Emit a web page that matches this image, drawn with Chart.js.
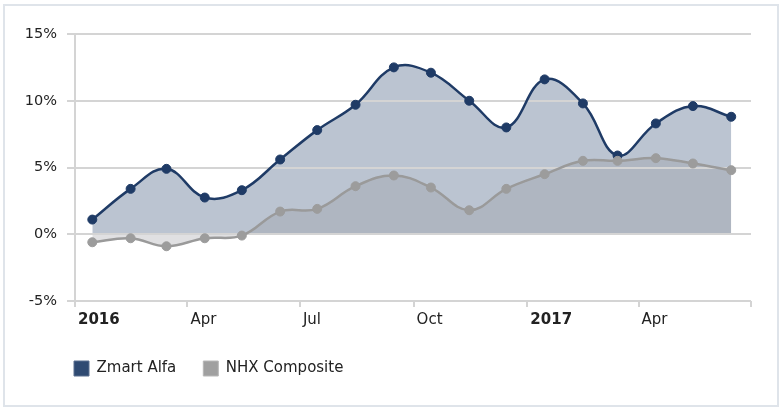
<!DOCTYPE html>
<html>
<head>
<meta charset="utf-8">
<script src="https://cdn.jsdelivr.net/npm/chart.js@4/dist/chart.umd.min.js"></script>
<style>
  html, body { margin: 0; padding: 0; background: #fff; }
  #wrap { position: relative; width: 780px; height: 416px; }
  #frame { position: absolute; left: 3px; top: 4px; width: 772px; height: 399px; border: 2px solid #dfe4ea; }
  #chart { position: absolute; left: 0; top: 0; }
</style>
</head>
<body>
<div id="wrap">
  <div id="frame"></div>
  <canvas id="chart" width="780" height="416"></canvas>
</div>
<script>
// monthly points (mid month)
var point_dates = ["2016-01-15", "2016-02-15", "2016-03-15", "2016-04-15", "2016-05-15", "2016-06-15",
                   "2016-07-15", "2016-08-15", "2016-09-15", "2016-10-15", "2016-11-15", "2016-12-15",
                   "2017-01-15", "2017-02-15", "2017-03-15", "2017-04-15", "2017-05-15", "2017-06-15"];
var zmart_alfa = [1.1, 3.4, 4.9, 2.75, 3.3, 5.6, 7.8, 9.7, 12.5, 12.1, 10.0, 8.0, 11.6, 9.8, 5.9, 8.3, 9.6, 8.8];
var nhx_composite = [-0.6, -0.3, -0.9, -0.3, -0.1, 1.7, 1.9, 3.6, 4.4, 3.5, 1.8, 3.4, 4.5, 5.5, 5.5, 5.7, 5.3, 4.8];

// x axis ticks (quarters)
var tick_dates = ["2016-01-01", "2016-04-01", "2016-07-01", "2016-10-01", "2017-01-01", "2017-04-01", "2017-07-01"];
var tick_labels = ["2016", "Apr", "Jul", "Oct", "2017", "Apr", ""];

var y_ticks = [-5, 0, 5, 10, 15];

var FONT = "'DejaVu Sans', Verdana, sans-serif";

function day_number(d) {
  return (Date.parse(d) - Date.parse(tick_dates[0])) / 86400000;
}

function to_points(values) {
  var out = [];
  for (var i = 0; i < values.length; i++) {
    out.push({ x: day_number(point_dates[i]), y: values[i] });
  }
  return out;
}

var tick_days = tick_dates.map(day_number);

// legend starts under the plot, not at the canvas edge
var shift_legend = {
  id: 'shift_legend',
  afterLayout: function(chart) {
    chart.legend.left += 37;
  }
};

new Chart(document.getElementById("chart"), {
  type: 'line',
  data: {
    datasets: [
      {
        label: "Zmart Alfa",
        data: to_points(zmart_alfa),
        order: 1,
        borderColor: "#1f3b66",
        backgroundColor: "rgba(31,59,102,0.3)",
        borderWidth: 2.5,
        pointRadius: 4.5,
        pointBorderWidth: 1,
        pointBackgroundColor: "#1f3b66",
        pointBorderColor: "#1f3b66",
        tension: 0.4,
        fill: 'origin'
      },
      {
        label: "NHX Composite",
        data: to_points(nhx_composite),
        order: 0,
        borderColor: "#9a9a9a",
        backgroundColor: "rgba(145,145,150,0.28)",
        borderWidth: 2.5,
        pointRadius: 4.5,
        pointBorderWidth: 1,
        pointBackgroundColor: "#9c9c9c",
        pointBorderColor: "#9c9c9c",
        tension: 0.4,
        fill: 'origin'
      }
    ]
  },
  options: {
    responsive: false,
    animation: false,
    events: [],
    layout: { padding: { left: 10, right: 29, top: 34, bottom: 30 } },
    scales: {
      x: {
        type: 'linear',
        min: tick_days[0],
        max: tick_days[tick_days.length - 1],
        afterBuildTicks: function(scale) {
          scale.ticks = tick_days.map(function(v) { return { value: v }; });
        },
        afterFit: function(scale) { scale.height = 33; },
        border: { display: false },
        grid: {
          drawOnChartArea: false,
          tickLength: 6,
          color: "#d4d4d4",
          lineWidth: 2
        },
        ticks: {
          autoSkip: false,
          maxRotation: 0,
          align: 'start',
          labelOffset: 3,
          padding: 4,
          color: "#222",
          font: function(ctx) {
            var bold = /^\d{4}$/.test(tick_labels[ctx.index] || "");
            return { family: FONT, size: 15, weight: bold ? 'bold' : 'normal' };
          },
          callback: function(value, index) { return tick_labels[index]; }
        }
      },
      y: {
        min: y_ticks[0],
        max: y_ticks[y_ticks.length - 1],
        afterBuildTicks: function(scale) {
          scale.ticks = y_ticks.map(function(v) { return { value: v }; });
        },
        afterFit: function(scale) { scale.width = 65; },
        border: { display: true, color: "#d4d4d4", width: 2 },
        grid: {
          color: "#d4d4d4",
          lineWidth: 2,
          tickLength: 8
        },
        ticks: {
          padding: 10,
          color: "#222",
          font: { family: FONT, size: 14.5 },
          callback: function(value) { return value + "%"; }
        }
      }
    },
    plugins: {
      filler: { drawTime: 'beforeDraw' },
      tooltip: { enabled: false },
      legend: {
        position: 'bottom',
        align: 'start',
        labels: {
          boxWidth: 15,
          boxHeight: 15,
          padding: 27,
          color: "#222",
          font: { family: FONT, size: 15 },
          sort: function(a, b) { return a.datasetIndex - b.datasetIndex; },
          generateLabels: function(chart) {
            var items = Chart.defaults.plugins.legend.labels.generateLabels(chart);
            var fills = ["#2f4a72", "#a0a0a0"];
            var strokes = ["#5a6f8f", "#b8b8b8"];
            items.forEach(function(item) {
              item.fillStyle = fills[item.datasetIndex];
              item.strokeStyle = strokes[item.datasetIndex];
              item.lineWidth = 1;
            });
            return items;
          }
        }
      }
    }
  },
  plugins: [shift_legend]
});
</script>
</body>
</html>
